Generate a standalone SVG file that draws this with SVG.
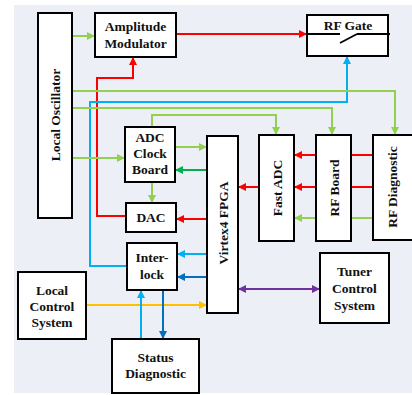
<svg xmlns="http://www.w3.org/2000/svg" width="412" height="395" viewBox="0 0 412 395">
<defs>
<style>
.box{fill:#fff;stroke:#000;stroke-width:2}
.t{font-family:"Liberation Serif","Times New Roman",serif;font-weight:bold;font-size:13.5px;fill:#111;text-anchor:middle}
.c{fill:none;stroke-width:2}
.r{stroke:#ff0000}.g{stroke:#92d050}.dg{stroke:#00b050}.b{stroke:#00b0f0}.db{stroke:#0070c0}.y{stroke:#ffc000}.p{stroke:#7030a0}
</style>
<marker id="ar" viewBox="0 0 10 10" refX="10" refY="5" markerWidth="9" markerHeight="8" markerUnits="userSpaceOnUse" orient="auto"><path d="M0,0L10,5L0,10z" fill="#ff0000"/></marker>
<marker id="ag" viewBox="0 0 10 10" refX="10" refY="5" markerWidth="9" markerHeight="8" markerUnits="userSpaceOnUse" orient="auto"><path d="M0,0L10,5L0,10z" fill="#92d050"/></marker>
<marker id="adg" viewBox="0 0 10 10" refX="10" refY="5" markerWidth="9" markerHeight="8" markerUnits="userSpaceOnUse" orient="auto"><path d="M0,0L10,5L0,10z" fill="#00b050"/></marker>
<marker id="ab" viewBox="0 0 10 10" refX="10" refY="5" markerWidth="9" markerHeight="8" markerUnits="userSpaceOnUse" orient="auto"><path d="M0,0L10,5L0,10z" fill="#00b0f0"/></marker>
<marker id="adb" viewBox="0 0 10 10" refX="10" refY="5" markerWidth="9" markerHeight="8" markerUnits="userSpaceOnUse" orient="auto"><path d="M0,0L10,5L0,10z" fill="#0070c0"/></marker>
<marker id="ay" viewBox="0 0 10 10" refX="10" refY="5" markerWidth="9" markerHeight="8" markerUnits="userSpaceOnUse" orient="auto"><path d="M0,0L10,5L0,10z" fill="#ffc000"/></marker>
<marker id="ap" viewBox="0 0 10 10" refX="10" refY="5" markerWidth="9" markerHeight="8" markerUnits="userSpaceOnUse" orient="auto-start-reverse"><path d="M0,0L10,5L0,10z" fill="#7030a0"/></marker>
</defs>
<rect x="14" y="5" width="398" height="388" fill="#eceff5"/>

<g id="connectors">
<path class="c g" d="M72,36H95" marker-end="url(#ag)"/>
<path class="c r" d="M176,34H307" marker-end="url(#ar)"/>
<path class="c r" d="M126,216H97V78H133V57" marker-end="url(#ar)"/>
<path class="c b" d="M127,266H90V102H347V56" marker-end="url(#ab)"/>
<path class="c g" d="M72,91H395V135" marker-end="url(#ag)"/>
<path class="c g" d="M72,108H332V135" marker-end="url(#ag)"/>
<path class="c g" d="M152,127V115H276V135" marker-end="url(#ag)"/>
<path class="c g" d="M72,158H125" marker-end="url(#ag)"/>
<path class="c g" d="M175,147H207" marker-end="url(#ag)"/>
<path class="c dg" d="M207,170H175" marker-end="url(#adg)"/>
<path class="c g" d="M152,182V203" marker-end="url(#ag)"/>
<path class="c r" d="M207,219H176" marker-end="url(#ar)"/>
<path class="c b" d="M207,254H177" marker-end="url(#ab)"/>
<path class="c db" d="M207,277H177" marker-end="url(#adb)"/>
<path class="c y" d="M86,305H207" marker-end="url(#ay)"/>
<path class="c b" d="M141,339V290" marker-end="url(#ab)"/>
<path class="c db" d="M163,290V339" marker-end="url(#adb)"/>
<path class="c p" d="M238,289H320" marker-start="url(#ap)" marker-end="url(#ap)"/>
<path class="c r" d="M316,155H294" marker-end="url(#ar)"/>
<path class="c r" d="M316,187H294" marker-end="url(#ar)"/>
<path class="c r" d="M373,155H351M373,187H351"/>
<path class="c r" d="M259,187H238" marker-end="url(#ar)"/>
<path class="c g" d="M316,218H294" marker-end="url(#ag)"/>
<path class="c g" d="M373,218H351"/>
</g>

<g id="local-oscillator">
<rect class="box" x="38" y="13" width="34" height="205"/>
<text class="t" transform="translate(55,115) rotate(-90)" x="0" y="5">Local Oscillator</text>
</g>
<g id="amplitude-modulator">
<rect class="box" x="95" y="13" width="81" height="44"/>
<text class="t" x="135.5" y="31">Amplitude</text>
<text class="t" x="135.5" y="48">Modulator</text>
</g>
<g id="rf-gate">
<rect class="box" x="307" y="15" width="81" height="41"/>
<text class="t" x="348" y="30">RF Gate</text>
<path d="M307,34H340M340,43L357,34M357,34H390" fill="none" stroke="#000" stroke-width="1.8"/>
</g>
<g id="adc-clock-board">
<rect class="box" x="125" y="127" width="50" height="55"/>
<text class="t" x="150" y="142">ADC</text>
<text class="t" x="150" y="158">Clock</text>
<text class="t" x="150" y="174">Board</text>
</g>
<g id="dac">
<rect class="box" x="126" y="203" width="50" height="29"/>
<text class="t" x="151" y="222">DAC</text>
</g>
<g id="interlock">
<rect class="box" x="127" y="243" width="50" height="47"/>
<text class="t" x="152" y="262">Inter-</text>
<text class="t" x="152" y="279">lock</text>
</g>
<g id="virtex4-fpga">
<rect class="box" x="207" y="136" width="31" height="177"/>
<text class="t" transform="translate(222.5,223) rotate(-90)" x="0" y="5">Virtex4 FPGA</text>
</g>
<g id="fast-adc">
<rect class="box" x="259" y="135" width="35" height="106"/>
<text class="t" transform="translate(276.5,188) rotate(-90)" x="0" y="5">Fast ADC</text>
</g>
<g id="rf-board">
<rect class="box" x="316" y="135" width="35" height="106"/>
<text class="t" transform="translate(333.5,188) rotate(-90)" x="0" y="5">RF Board</text>
</g>
<g id="rf-diagnostic">
<rect class="box" x="373" y="135" width="45" height="105"/>
<text class="t" transform="translate(392,187) rotate(-90)" x="0" y="5">RF Diagnostic</text>
</g>
<g id="local-control-system">
<rect class="box" x="18" y="272" width="68" height="67"/>
<text class="t" x="52" y="295">Local</text>
<text class="t" x="52" y="311">Control</text>
<text class="t" x="52" y="327">System</text>
</g>
<g id="status-diagnostic">
<rect class="box" x="112" y="339" width="87" height="54"/>
<text class="t" x="155.5" y="362">Status</text>
<text class="t" x="155.5" y="378">Diagnostic</text>
</g>
<g id="tuner-control-system">
<rect class="box" x="320" y="253" width="69" height="70"/>
<text class="t" x="354.5" y="276">Tuner</text>
<text class="t" x="354.5" y="293">Control</text>
<text class="t" x="354.5" y="310">System</text>
</g>
</svg>
